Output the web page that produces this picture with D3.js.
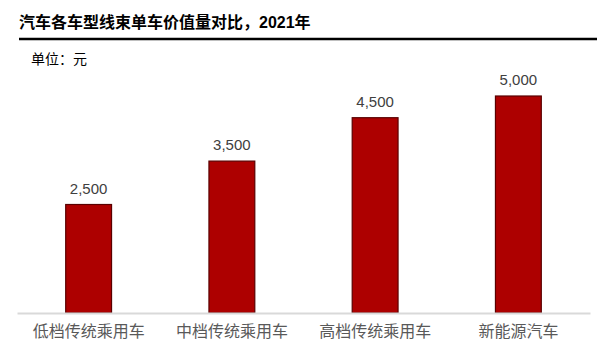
<!DOCTYPE html>
<html>
<head>
<meta charset="utf-8">
<script src="https://cdn.jsdelivr.net/npm/d3@7"></script>
<style>
  body { margin: 0; background: #fff; }
  text { font-family: "Liberation Sans", Arial, "Noto Sans CJK SC", sans-serif; }
</style>
</head>
<body>
<div id="chart"></div>
<script>
const categories = ["低档传统乘用车", "中档传统乘用车", "高档传统乘用车", "新能源汽车"];
const values = [2500, 3500, 4500, 5000];
const title = "汽车各车型线束单车价值量对比，2021年";
const unitLabel = "单位：元";

const width = 610, height = 351;
const plot = { left: 17, right: 590, top: 96, bottom: 313 };

const svg = d3.select("#chart").append("svg")
    .attr("width", width)
    .attr("height", height);

// title + rule
svg.append("text")
    .attr("x", 19)
    .attr("y", 28)
    .attr("font-size", 16)
    .attr("font-weight", "bold")
    .attr("fill", "#000")
    .text(title);
svg.append("line")
    .attr("x1", 19).attr("x2", 597)
    .attr("y1", 39).attr("y2", 39)
    .attr("stroke", "#000")
    .attr("stroke-width", 2.5);

svg.append("text")
    .attr("x", 31)
    .attr("y", 64)
    .attr("font-size", 14)
    .attr("fill", "#000")
    .text(unitLabel);

const x = d3.scaleBand()
    .domain(categories)
    .range([plot.left, plot.right])
    .paddingInner(0.68)
    .paddingOuter(0.34);

const y = d3.scaleLinear()
    .domain([0, d3.max(values)])
    .range([plot.bottom, plot.top]);

const data = categories.map((c, i) => ({ cat: c, val: values[i] }));

svg.append("g")
    .selectAll("rect")
    .data(data)
    .enter()
    .append("rect")
    .attr("x", d => x(d.cat))
    .attr("y", d => y(d.val))
    .attr("width", x.bandwidth())
    .attr("height", d => y(0) - y(d.val))
    .attr("fill", "#ad0000")
    .attr("stroke", "#5a0000")
    .attr("stroke-width", 1.2);

svg.append("g")
    .selectAll("text")
    .data(data)
    .enter()
    .append("text")
    .attr("x", d => x(d.cat) + x.bandwidth() / 2)
    .attr("y", d => y(d.val) - 11)
    .attr("text-anchor", "middle")
    .attr("font-size", 15)
    .attr("fill", "#404040")
    .text(d => d3.format(",")(d.val));

// x axis
const xAxis = svg.append("g")
    .attr("transform", `translate(0,${plot.bottom})`)
    .call(d3.axisBottom(x).tickSize(0).tickPadding(13));
xAxis.select(".domain").attr("stroke", "#d9d9d9").attr("stroke-width", 2);
xAxis.selectAll("text")
    .attr("font-size", 16)
    .attr("fill", "#595959")
    .style("font-family", "'Liberation Sans', 'Noto Sans CJK SC', sans-serif");
</script>
</body>
</html>
